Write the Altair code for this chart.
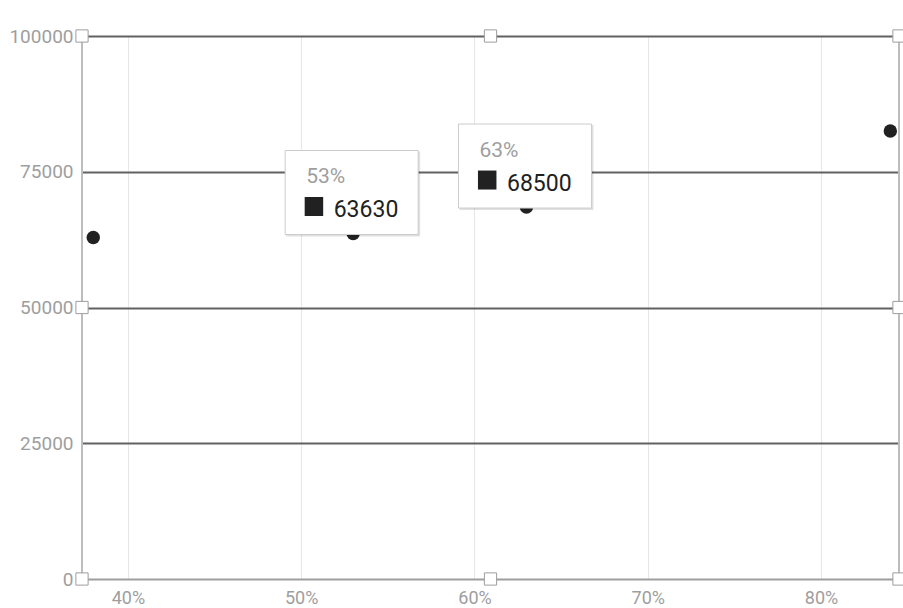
import altair as alt
import pandas as pd

# Scatter values: x in percent, y as plain number
pct = [38, 53, 63, 84]
value = [62900, 63630, 68500, 82500]

# Points whose hover cards are open
card_pct = [53, 63]

x_ticks = [40, 50, 60, 70, 80]
y_ticks = [0, 25000, 50000, 75000, 100000]

X_MIN, X_MAX = 37.35, 84.5
Y_MIN, Y_MAX = 0, 100000

FONT = "Roboto"

points = pd.DataFrame({"pct": pct, "value": value})
points["label"] = points["pct"].astype(str) + "%"
points["value_text"] = points["value"].astype(str)
cards = points[points["pct"].isin(card_pct)]

# selection handles at corners and edge midpoints of the plot area
x_mid = (X_MIN + X_MAX) / 2
y_mid = (Y_MIN + Y_MAX) / 2
handles = pd.DataFrame(
    [(x, y) for x in (X_MIN, x_mid, X_MAX) for y in (Y_MIN, y_mid, Y_MAX)
     if not (x == x_mid and y == y_mid)],
    columns=["pct", "value"],
)
edges = pd.DataFrame({"pct": [X_MIN, X_MAX]})

x_scale = alt.Scale(domain=[X_MIN, X_MAX], nice=False, zero=False)
y_scale = alt.Scale(domain=[Y_MIN, Y_MAX], nice=False)

x_enc = alt.X(
    "pct:Q",
    scale=x_scale,
    axis=alt.Axis(
        values=x_ticks,
        labelExpr="datum.value + '%'",
        grid=True,
        gridColor="#e6e6e6",
        gridWidth=1,
        domain=False,
        ticks=False,
        labelPadding=10,
        labelFontSize=18,
        labelFont=FONT,
        labelColor="#9e9e9e",
        title=None,
    ),
)
y_enc = alt.Y(
    "value:Q",
    scale=y_scale,
    axis=alt.Axis(
        values=y_ticks,
        format="d",
        grid=True,
        gridColor=alt.condition("datum.value === 0", alt.value("#9e9e9e"), alt.value("#616161")),
        gridWidth=2,
        domain=False,
        ticks=False,
        labelPadding=9,
        labelFontSize=19,
        labelFont=FONT,
        labelColor="#9e9e9e",
        title=None,
    ),
)

base = alt.Chart(points)

dots = base.mark_circle(size=180, color="#212121", opacity=1).encode(x=x_enc, y=y_enc)

edge_lines = alt.Chart(edges).mark_rule(color="#bdbdbd", strokeWidth=2).encode(
    x=alt.X("pct:Q", scale=x_scale)
)

handle_marks = alt.Chart(handles).mark_square(
    size=150, fill="white", stroke="#9e9e9e", strokeWidth=1, opacity=1
).encode(
    x=alt.X("pct:Q", scale=x_scale),
    y=alt.Y("value:Q", scale=y_scale),
)

card_base = alt.Chart(cards)
cx = alt.X("pct:Q", scale=x_scale)
cy = alt.Y("value:Q", scale=y_scale)

card_shadow = card_base.mark_rect(
    fill="#000000", opacity=0.12,
    xOffset=-67, x2Offset=67, yOffset=-82, y2Offset=3,
).encode(x=cx, x2="pct:Q", y=cy, y2="value:Q")

card_box = card_base.mark_rect(
    fill="white", stroke="#cccccc", strokeWidth=1,
    xOffset=-68, x2Offset=65, yOffset=-83, y2Offset=1,
).encode(x=cx, x2="pct:Q", y=cy, y2="value:Q")

card_title = card_base.mark_text(
    align="left", baseline="alphabetic", dx=-47, dy=-50,
    fontSize=21, font=FONT, color="#9e9e9e",
).encode(x=cx, y=cy, text="label:N")

card_swatch = card_base.mark_rect(
    fill="#212121",
    xOffset=-48.5, x2Offset=-30, yOffset=-36.5, y2Offset=-17.5,
).encode(x=cx, x2="pct:Q", y=cy, y2="value:Q")

card_value = card_base.mark_text(
    align="left", baseline="alphabetic", dx=-19.5, dy=-16.5,
    fontSize=23, font=FONT, fontWeight="normal", color="#212121",
).encode(x=cx, y=cy, text="value_text:N")

chart = (
    alt.layer(edge_lines, dots, handle_marks, card_shadow, card_box,
              card_title, card_swatch, card_value)
    .properties(
        width=817,
        height=543,
        padding={"left": 82, "top": 36, "right": 4, "bottom": 29},
        autosize=alt.AutoSizeParams(type="none"),
        background="white",
    )
    .configure_view(stroke=None)
)

chart.save("out.html", embed_options={"renderer": "svg", "actions": False})
